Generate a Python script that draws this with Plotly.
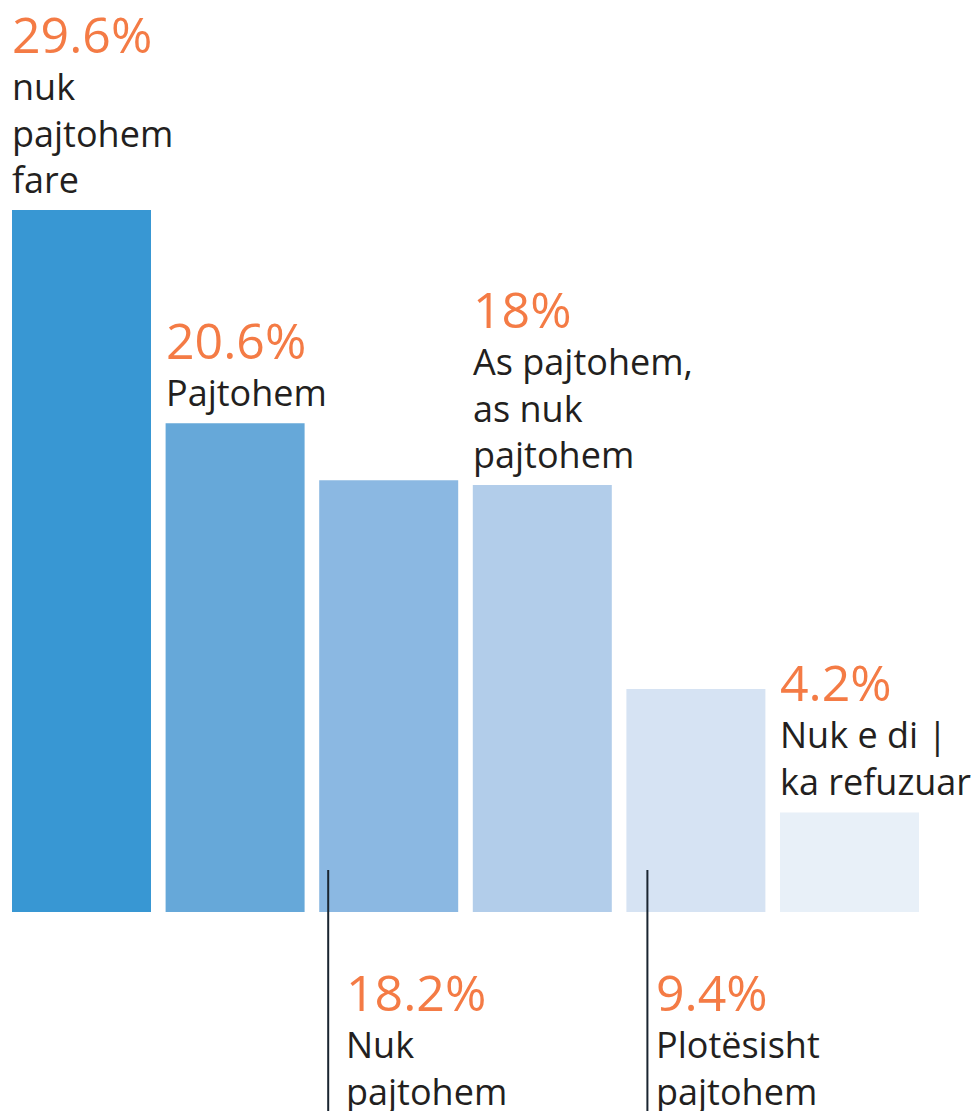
import plotly.graph_objects as go

categories = ["nuk<br>pajtohem<br>fare", "Pajtohem", "Nuk<br>pajtohem",
              "As pajtohem,<br>as nuk<br>pajtohem", "Plotësisht<br>pajtohem",
              "Nuk e di |<br>ka refuzuar"]
values = [29.6, 20.6, 18.2, 18.0, 9.4, 4.2]
pct_labels = ["29.6%", "20.6%", "18.2%", "18%", "9.4%", "4.2%"]
label_below = [False, False, True, False, True, False]
bar_colors = ["#3897D3", "#66A8D9", "#8BB8E2", "#B2CDEA", "#D6E3F3", "#E8F0F8"]

ORANGE = "#F47B45"
TEXT = "#231F20"
FONT = "Open Sans"
LBL = 36
PCT = 50
BAR_W = 0.905
PX = 153.6  # px per category
PY = 23.72  # px per percent

xs = list(range(len(values)))
fig = go.Figure(go.Bar(x=xs, y=values, width=BAR_W, marker=dict(color=bar_colors, line=dict(width=0)),
                       hoverinfo="skip"))

annotations = []
shapes = []
lead_off = [0, 0, 9 / PX, 0, 21 / PX, 0]
text_shift = [0, 0, 16, 0, 7, 0]
for i, (v, cat, pct, below) in enumerate(zip(values, categories, pct_labels, label_below)):
    left = i - BAR_W / 2
    text = f"<span style='font-size:{PCT}px;color:{ORANGE}'>{pct}</span><br>{cat}"
    if not below:
        annotations.append(dict(x=left, y=v, xref="x", yref="y", xanchor="left", yanchor="bottom",
                                text=text, showarrow=False, yshift=4, xshift=-2,
                                font=dict(family=FONT, size=LBL, color=TEXT), align="left"))
    else:
        lx = left + lead_off[i]
        shapes.append(dict(type="line", xref="x", yref="y", x0=lx, x1=lx, y0=42 / PY, y1=-20,
                           line=dict(color="#1A2530", width=2)))
        annotations.append(dict(x=lx, y=0, xref="x", yref="y", xanchor="left", yanchor="top",
                                text=text, showarrow=False, yshift=-44, xshift=text_shift[i],
                                font=dict(family=FONT, size=LBL, color=TEXT), align="left"))

fig.update_layout(
    width=976, height=1111, margin=dict(l=0, r=0, t=0, b=0),
    paper_bgcolor="white", plot_bgcolor="white", showlegend=False,
    xaxis=dict(range=[-81.5 / PX, (976 - 81.5) / PX], visible=False, fixedrange=True),
    yaxis=dict(range=[-(1111 - 912) / PY, 912 / PY], visible=False, fixedrange=True),
    annotations=annotations, shapes=shapes,
)
fig.write_html("out.html", config={"displayModeBar": False},
               post_script="document.body.style.margin='0';")
